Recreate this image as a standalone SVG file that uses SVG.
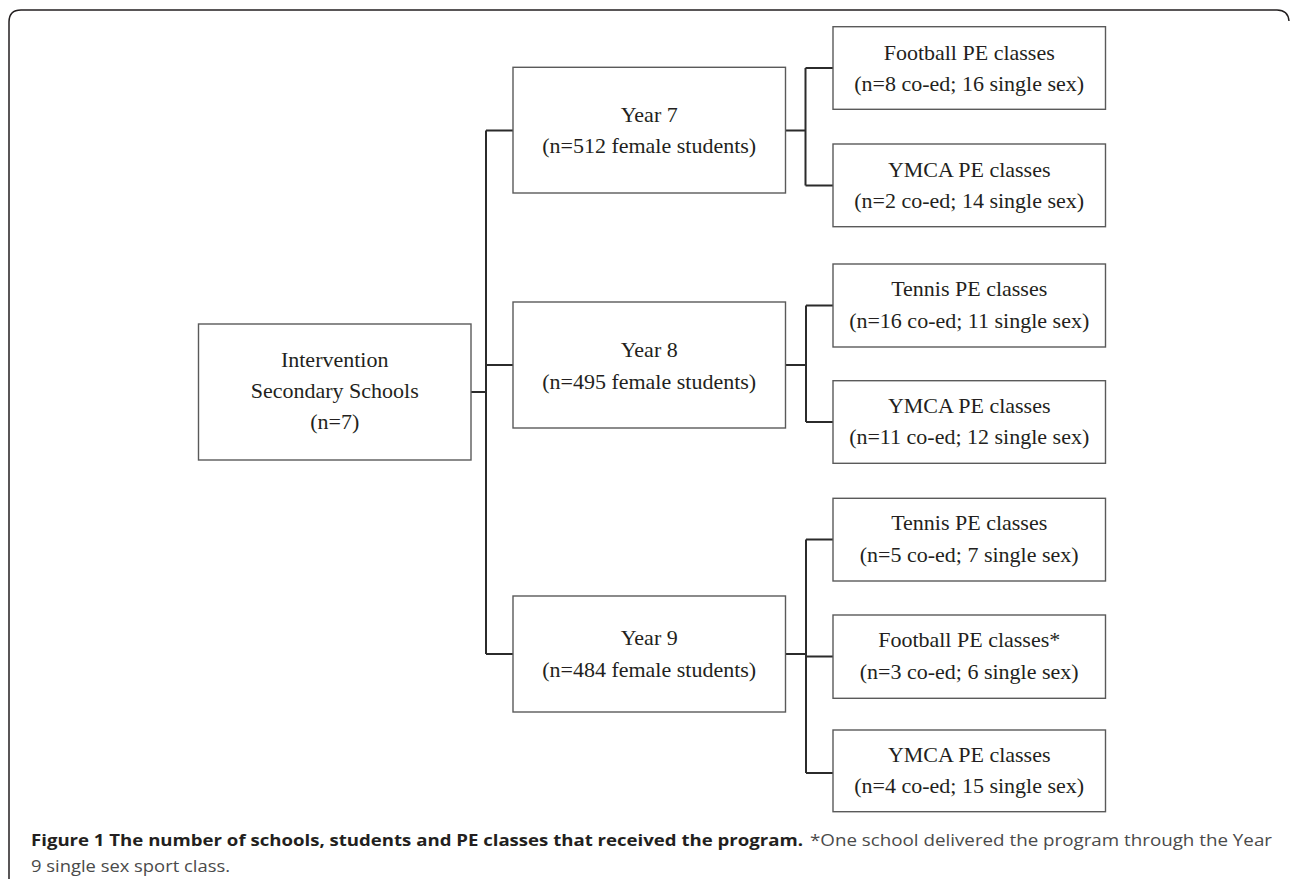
<svg xmlns="http://www.w3.org/2000/svg" width="1290" height="879" viewBox="0 0 1290 879">
<style>
  .box { fill: #ffffff; stroke: #5a5a5a; stroke-width: 1.4; }
  .t { font-family: "Liberation Serif", "Times New Roman", serif; font-size: 22px; fill: #231f20; text-anchor: middle; }
  .conn { fill: none; stroke: #2b2b2b; stroke-width: 2; }
  .frame { fill: none; stroke: #231f20; stroke-width: 1.5; }
  .capb { font-family: "Open Sans", "Liberation Sans", sans-serif; font-size: 16.5px; font-weight: bold; fill: #231f20; }
  .capr { font-family: "Open Sans", "Liberation Sans", sans-serif; font-size: 16.5px; fill: #4a4a4a; }
</style>
<rect x="0" y="0" width="1290" height="879" fill="#ffffff"/>
<path class="frame" d="M9,879 V22 Q9,10 21,10 H1277 Q1288,10 1289,21"/>

<g id="connectors">
  <path class="conn" d="M471,392 H486"/>
  <path class="conn" d="M486,130.5 V654"/>
  <path class="conn" d="M486,130.5 H513 M486,365 H513 M486,654 H513"/>
  <path class="conn" d="M785.5,130.5 H805.5 M805.5,68 V185.5 M805.5,68 H833 M805.5,185.5 H833"/>
  <path class="conn" d="M785.5,365 H806 M806,305.5 V422 M806,305.5 H833 M806,422 H833"/>
  <path class="conn" d="M785.5,654 H806 M806,539.5 V773 M806,539.5 H833 M806,656.5 H833 M806,773 H833"/>
</g>

<g id="root">
  <rect class="box" x="198.5" y="324" width="272.5" height="136"/>
  <text class="t" x="334.7" y="367">Intervention</text>
  <text class="t" x="334.7" y="398">Secondary Schools</text>
  <text class="t" x="334.7" y="429">(n=7)</text>
</g>

<g id="year7">
  <rect class="box" x="513" y="67.3" width="272.5" height="125.7"/>
  <text class="t" x="649.2" y="122">Year 7</text>
  <text class="t" x="649.2" y="153">(n=512 female students)</text>
</g>
<g id="year8">
  <rect class="box" x="513" y="302" width="272.5" height="126"/>
  <text class="t" x="649.2" y="357">Year 8</text>
  <text class="t" x="649.2" y="388.5">(n=495 female students)</text>
</g>
<g id="year9">
  <rect class="box" x="513" y="596" width="272.5" height="116"/>
  <text class="t" x="649.2" y="645">Year 9</text>
  <text class="t" x="649.2" y="676.5">(n=484 female students)</text>
</g>

<g id="y7-football">
  <rect class="box" x="833" y="26.7" width="272.5" height="82.6"/>
  <text class="t" x="969.2" y="59.5">Football PE classes</text>
  <text class="t" x="969.2" y="90.5">(n=8 co-ed; 16 single sex)</text>
</g>
<g id="y7-ymca">
  <rect class="box" x="833" y="144" width="272.5" height="82.7"/>
  <text class="t" x="969.2" y="176.5">YMCA PE classes</text>
  <text class="t" x="969.2" y="207.5">(n=2 co-ed; 14 single sex)</text>
</g>
<g id="y8-tennis">
  <rect class="box" x="833" y="264" width="272.5" height="83"/>
  <text class="t" x="969.2" y="296">Tennis PE classes</text>
  <text class="t" x="969.2" y="327.5">(n=16 co-ed; 11 single sex)</text>
</g>
<g id="y8-ymca">
  <rect class="box" x="833" y="380.7" width="272.5" height="82.6"/>
  <text class="t" x="969.2" y="412.5">YMCA PE classes</text>
  <text class="t" x="969.2" y="444">(n=11 co-ed; 12 single sex)</text>
</g>
<g id="y9-tennis">
  <rect class="box" x="833" y="498.3" width="272.5" height="82.7"/>
  <text class="t" x="969.2" y="530">Tennis PE classes</text>
  <text class="t" x="969.2" y="561.5">(n=5 co-ed; 7 single sex)</text>
</g>
<g id="y9-football">
  <rect class="box" x="833" y="615" width="272.5" height="83.3"/>
  <text class="t" x="969.2" y="647">Football PE classes*</text>
  <text class="t" x="969.2" y="678.5">(n=3 co-ed; 6 single sex)</text>
</g>
<g id="y9-ymca">
  <rect class="box" x="833" y="730" width="272.5" height="81.7"/>
  <text class="t" x="969.2" y="761.5">YMCA PE classes</text>
  <text class="t" x="969.2" y="793">(n=4 co-ed; 15 single sex)</text>
</g>

<g id="caption">
  <text class="capb" x="31" y="846" textLength="772" lengthAdjust="spacingAndGlyphs">Figure 1 The number of schools, students and PE classes that received the program.</text>
  <text class="capr" x="810" y="846" textLength="462" lengthAdjust="spacingAndGlyphs">*One school delivered the program through the Year</text>
  <text class="capr" x="31" y="872" textLength="199" lengthAdjust="spacingAndGlyphs">9 single sex sport class.</text>
</g>
</svg>
